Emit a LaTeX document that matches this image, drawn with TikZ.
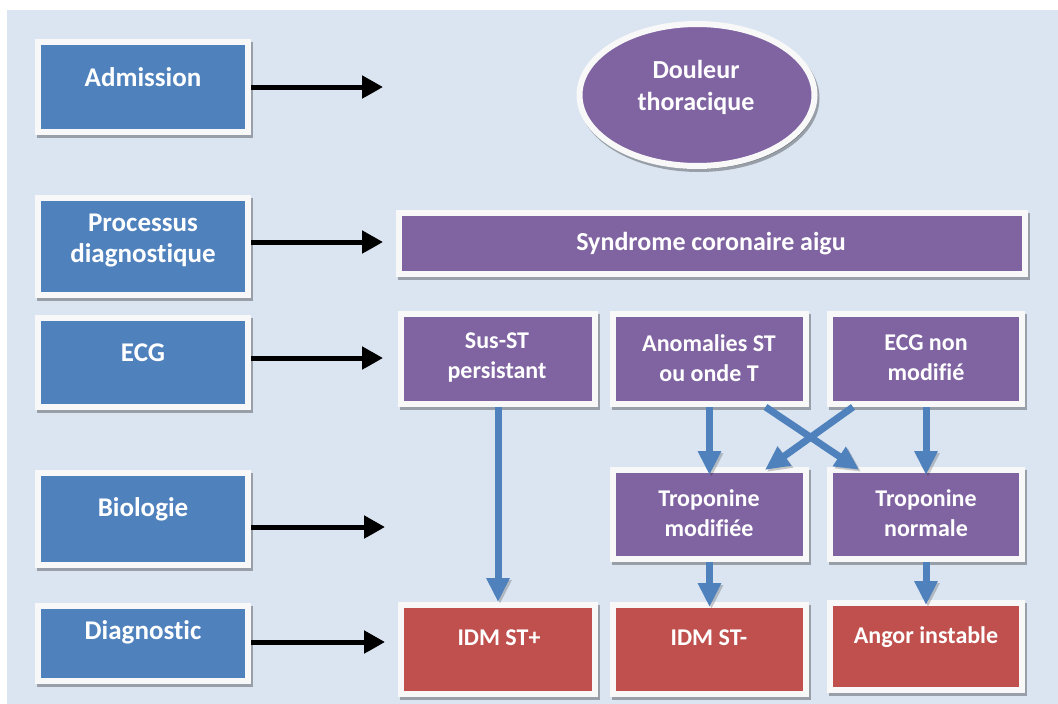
\documentclass[tikz,border=0pt]{standalone}
\usepackage{fontspec}
\setmainfont{Carlito}[Ligatures=NoCommon]
\usetikzlibrary{arrows.meta,shapes.geometric,calc}
\definecolor{bgblue}{HTML}{DBE5F1}
\definecolor{boxblue}{HTML}{4F81BD}
\definecolor{boxpurple}{HTML}{8064A2}
\definecolor{boxred}{HTML}{C0504D}
\definecolor{framewhite}{HTML}{F8F8F8}
\begin{document}
\begin{tikzpicture}[x=1pt,y=-1pt,
  boxframe/.style={draw=framewhite, line width=6pt, inner sep=0pt, outer sep=3pt,
    preaction={draw=black, fill=black, opacity=0.3,
      transform canvas={xshift=2pt,yshift=-3pt}}},
  leftbox/.style={boxframe, rectangle, fill=boxblue, minimum width=210pt},
  purplebox/.style={boxframe, rectangle, fill=boxpurple},
  redbox/.style={boxframe, rectangle, fill=boxred},
  lbl/.style={text=white, inner sep=0pt, align=center},
  bigtxt/.style={font=\bfseries\fontsize{27}{31}\selectfont},
  midtxt/.style={font=\bfseries\fontsize{26}{32}\selectfont},
  smalltxt/.style={font=\bfseries\fontsize{24}{30}\selectfont},
  karrow/.style={draw=black, line width=5pt, -{Triangle[length=21pt,width=22pt]},
    preaction={draw=black, opacity=0.2, transform canvas={xshift=1.5pt,yshift=-2pt}}},
  barrow/.style={draw=boxblue, line width=7pt, -{Triangle[length=24pt,width=22pt]},
    preaction={draw=black, opacity=0.2, transform canvas={xshift=2pt,yshift=-2pt}}}
]
\useasboundingbox (0,0) rectangle (1058,704);
\fill[bgblue] (7,10) rectangle (1058,704);

% stage column
\node[leftbox, minimum height=90pt] (adm)  at (143,87)    {};
\node[leftbox, minimum height=97pt] (proc) at (143,246.5) {};
\node[leftbox, minimum height=89pt] (ecg)  at (143,362.5) {};
\node[leftbox, minimum height=92pt] (bio)  at (143,519)   {};
\node[leftbox, minimum height=75pt] (diag) at (143,643.5) {};

\node[lbl, bigtxt] (admT)  at (143,77)  {Admission};
\node[lbl, bigtxt] (procT) at (143,241) {Processus\\diagnostique};
\node[lbl, bigtxt] (ecgT)  at (143,353) {ECG};
\node[lbl, bigtxt] (bioT)  at (143,509) {Biologie};
\node[lbl, bigtxt] (diagT) at (143,632) {Diagnostic};

% flow chart
\node[boxframe, ellipse, fill=boxpurple, minimum width=235pt, minimum height=142pt] (doul) at (697,95) {};
\node[lbl, midtxt] (doulT) at (696,87) {Douleur\\thoracique};

\node[purplebox, minimum width=626pt, minimum height=61pt] (syn) at (712,243.5) {};
\node[lbl, midtxt] (synT) at (711,244) {Syndrome coronaire aigu};

\node[purplebox, minimum width=194pt, minimum height=90pt] (sus)  at (498,359)   {};
\node[purplebox, minimum width=193pt, minimum height=90pt] (ano)  at (709.5,359) {};
\node[purplebox, minimum width=192pt, minimum height=90pt] (ecgn) at (926,359)   {};
\node[purplebox, minimum width=193pt, minimum height=89pt] (tmod) at (709.5,514.5) {};
\node[purplebox, minimum width=192pt, minimum height=89pt] (tnor) at (926,514.5)   {};
\node[redbox, minimum width=194pt, minimum height=89pt] (idmp) at (498,649.5)   {};
\node[redbox, minimum width=193pt, minimum height=89pt] (idmm) at (709.5,649.5) {};
\node[redbox, minimum width=192pt, minimum height=87pt] (ang)  at (926,646.5)   {};

\node[lbl, smalltxt] (susT)  at (497,358)   {Sus-ST\\persistant};
\node[lbl, smalltxt] (anoT)  at (709,358)   {Anomalies ST\\ou onde T};
\node[lbl, smalltxt] (ecgnT) at (926,358)   {ECG non\\modifié};
\node[lbl, smalltxt] (tmodT) at (709,513)   {Troponine\\modifiée};
\node[lbl, smalltxt] (tnorT) at (926,513)   {Troponine\\normale};
\node[lbl, smalltxt] (idmpT) at (499,638)   {IDM ST+};
\node[lbl, smalltxt] (idmmT) at (709,638)   {IDM ST-};
\node[lbl, smalltxt] (angT)  at (926,637)   {Angor instable};

% stage arrows
\coordinate (admE)  at (383,87);
\coordinate (procE) at (383,242);
\coordinate (ecgE)  at (383,358);
\coordinate (bioE)  at (385,527);
\coordinate (diagE) at (385,642);
\draw[karrow] (adm.east |- admE)   -- (admE);
\draw[karrow] (proc.east |- procE) -- (procE);
\draw[karrow] (ecg.east |- ecgE)   -- (ecgE);
\draw[karrow] (bio.east |- bioE)   -- (bioE);
\draw[karrow] (diag.east |- diagE) -- (diagE);

% decision arrows
\draw[barrow] (sus) -- (idmp);
\draw[barrow, shorten >=-8pt] (ano) -- (tmod);
\draw[barrow, shorten >=-8pt] (ecgn) -- (tnor);
\draw[barrow, shorten >=-5pt] ($(ano.south)+(56,0)$) -- ($(tnor.north west)+(28,0)$);
\draw[barrow, shorten >=-5pt] ($(ecgn.south west)+(26,0)$) -- ($(tmod.north east)+(-40,0)$);
\draw[barrow, shorten >=-5pt] (tmod) -- (idmm);
\draw[barrow, shorten >=-5pt] (tnor) -- (ang);
\end{tikzpicture}
\end{document}
